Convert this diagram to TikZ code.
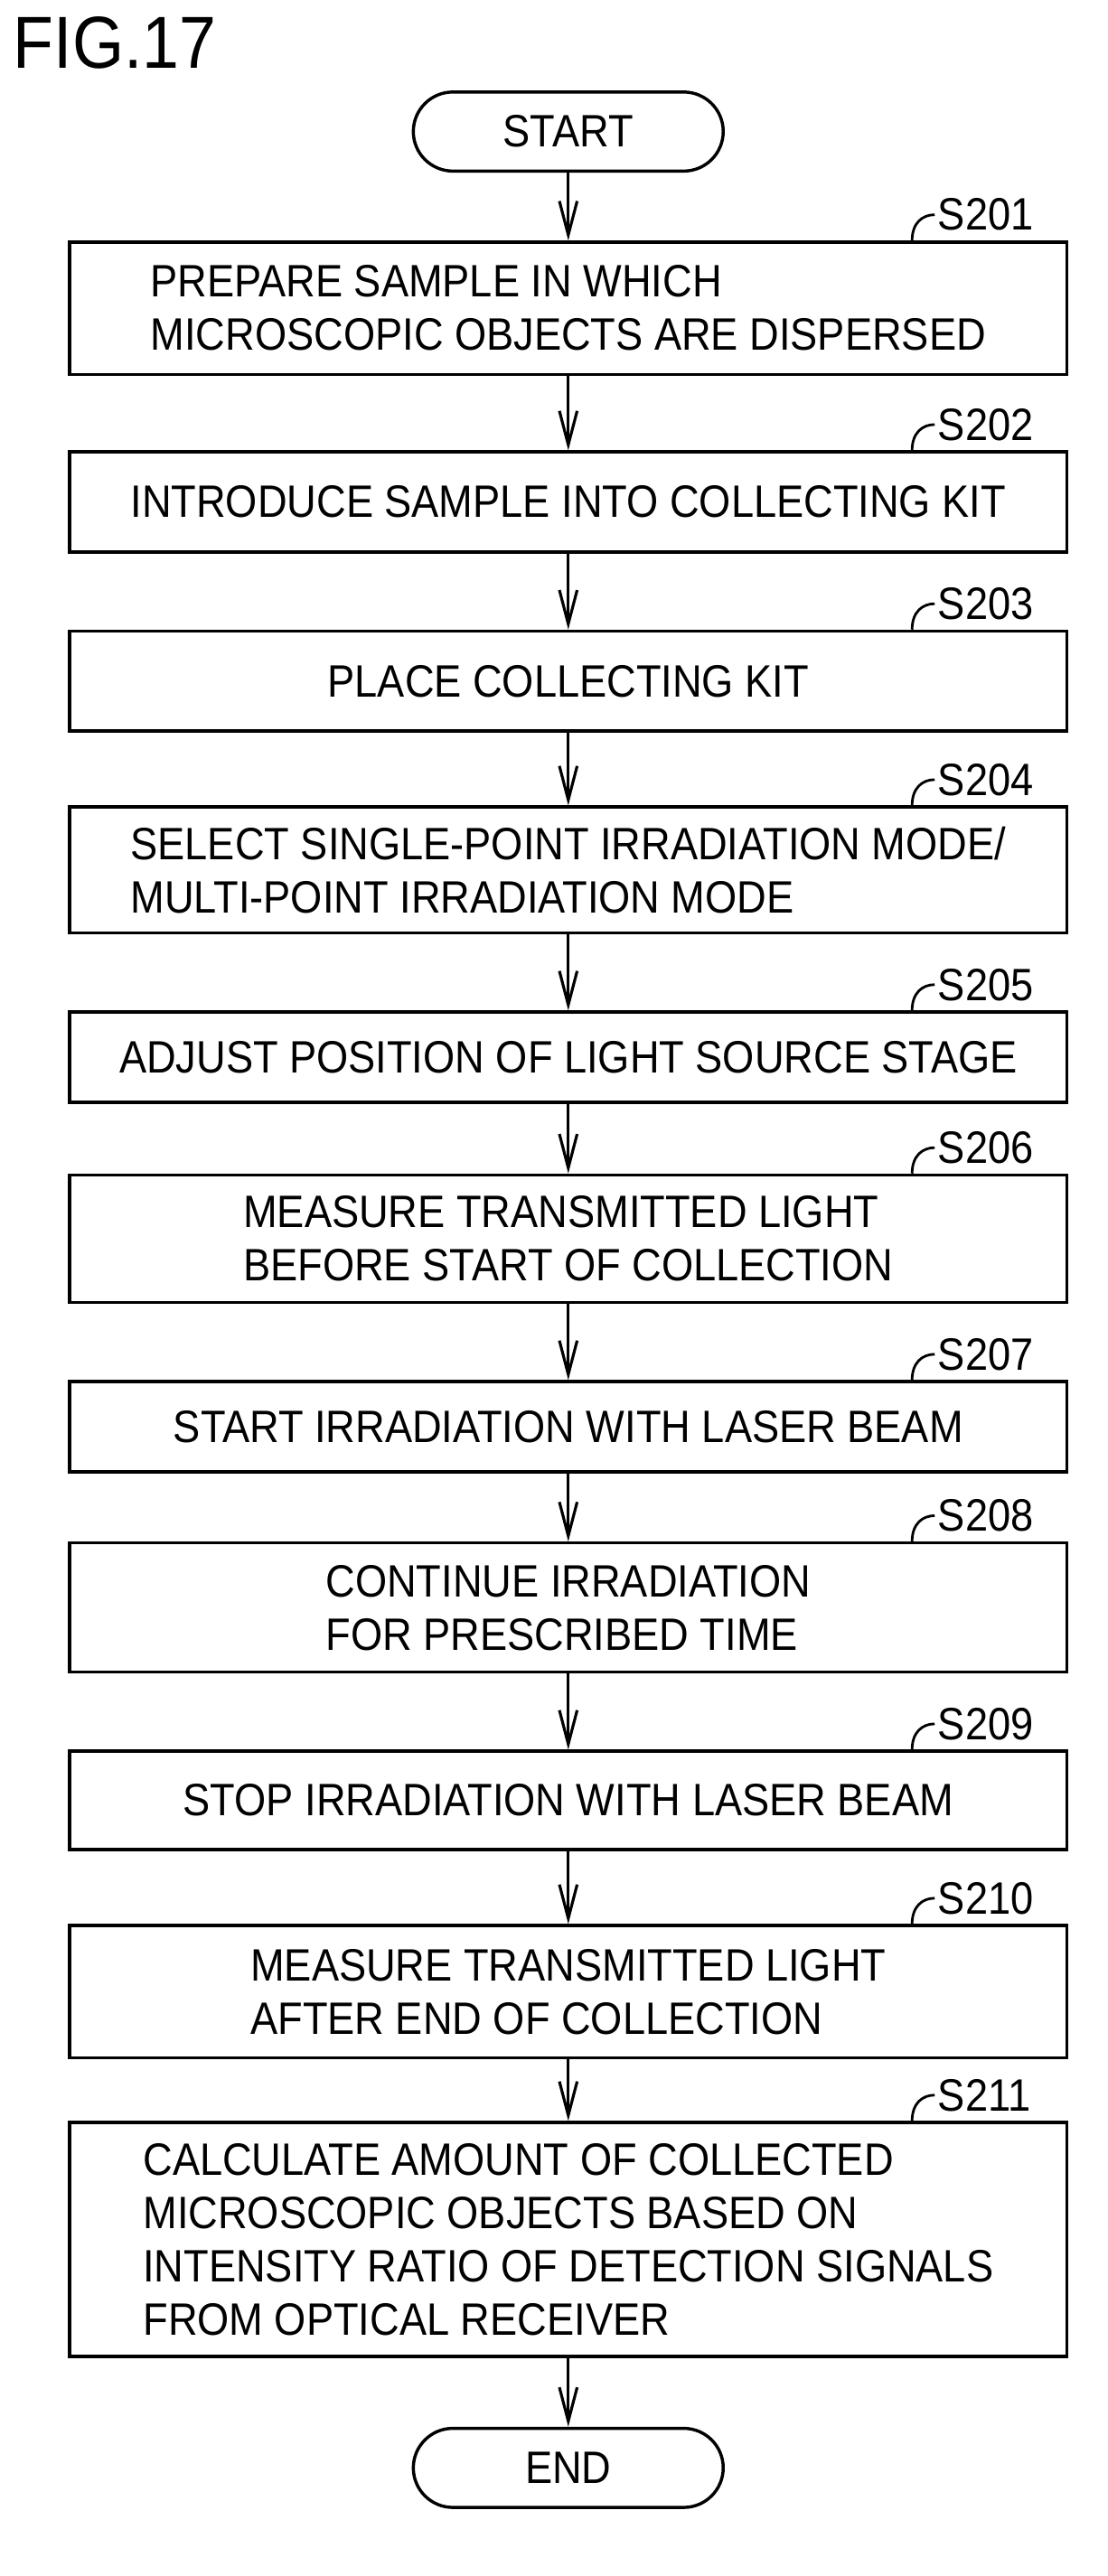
\documentclass[tikz,border=0pt]{standalone}
\usepackage{fontspec}
\setmainfont[FakeStretch=0.9]{Liberation Sans}
\usetikzlibrary{arrows.meta}
\tikzset{
 box/.style={draw,line width=1.1pt,minimum width=12.36cm,inner sep=0pt,align=left,font=\fontsize{16}{18.8}\selectfont},
 term/.style={draw,line width=1.1pt,minimum width=3.84cm,minimum height=0.98cm,rounded corners=0.49cm,font=\fontsize{16}{20}\selectfont},
 arr/.style={line width=1pt,-{Straight Barb[length=0.42cm,width=0.22cm]}},
 lbl/.style={font=\fontsize{16}{20}\selectfont,anchor=west,inner sep=1pt},
 lead/.style={line width=0.9pt}
}
\newcommand{\fstep}[5]{%
 \node[box,minimum height=#3*0.02cm] (#1) at (352,#2) {#4};
 \draw[lead] ([xshift=4.26cm]#1.north) .. controls +(0cm,0.22cm) and +(-0.15cm,0cm) .. ++(0.28cm,0.32cm) coordinate (#1l);
 \node[lbl] at (#1l) {#5};
}
\begin{document}
\begin{tikzpicture}[x=0.02cm,y=-0.02cm]
\useasboundingbox (0,0) rectangle (686,1596);
\node[anchor=north west,inner sep=0pt,font=\fontsize{26}{30}\selectfont] at (8,10) {FIG.17};
\node[term] (start) at (352,81.5) {START};
\fstep{s1}{191}{82}{PREPARE SAMPLE IN WHICH\\MICROSCOPIC OBJECTS ARE DISPERSED}{S201}
\fstep{s2}{311}{62}{INTRODUCE SAMPLE INTO COLLECTING KIT}{S202}
\fstep{s3}{422}{62}{PLACE COLLECTING KIT}{S203}
\fstep{s4}{539}{78}{SELECT SINGLE-POINT IRRADIATION MODE/\\MULTI-POINT IRRADIATION MODE}{S204}
\fstep{s5}{655}{56}{ADJUST POSITION OF LIGHT SOURCE STAGE}{S205}
\fstep{s6}{767.5}{79}{MEASURE TRANSMITTED LIGHT\\BEFORE START OF COLLECTION}{S206}
\fstep{s7}{884}{56}{START IRRADIATION WITH LASER BEAM}{S207}
\fstep{s8}{996}{80}{CONTINUE IRRADIATION\\FOR PRESCRIBED TIME}{S208}
\fstep{s9}{1115.5}{61}{STOP IRRADIATION WITH LASER BEAM}{S209}
\fstep{s10}{1234}{82}{MEASURE TRANSMITTED LIGHT\\AFTER END OF COLLECTION}{S210}
\fstep{s11}{1387.5}{145}{CALCULATE AMOUNT OF COLLECTED\\MICROSCOPIC OBJECTS BASED ON\\INTENSITY RATIO OF DETECTION SIGNALS\\FROM OPTICAL RECEIVER}{S211}
\node[term] (end) at (352,1529) {END};
\draw[arr] (start) -- (s1);
\draw[arr] (s1) -- (s2);
\draw[arr] (s2) -- (s3);
\draw[arr] (s3) -- (s4);
\draw[arr] (s4) -- (s5);
\draw[arr] (s5) -- (s6);
\draw[arr] (s6) -- (s7);
\draw[arr] (s7) -- (s8);
\draw[arr] (s8) -- (s9);
\draw[arr] (s9) -- (s10);
\draw[arr] (s10) -- (s11);
\draw[arr] (s11) -- (end);
\end{tikzpicture}
\end{document}
